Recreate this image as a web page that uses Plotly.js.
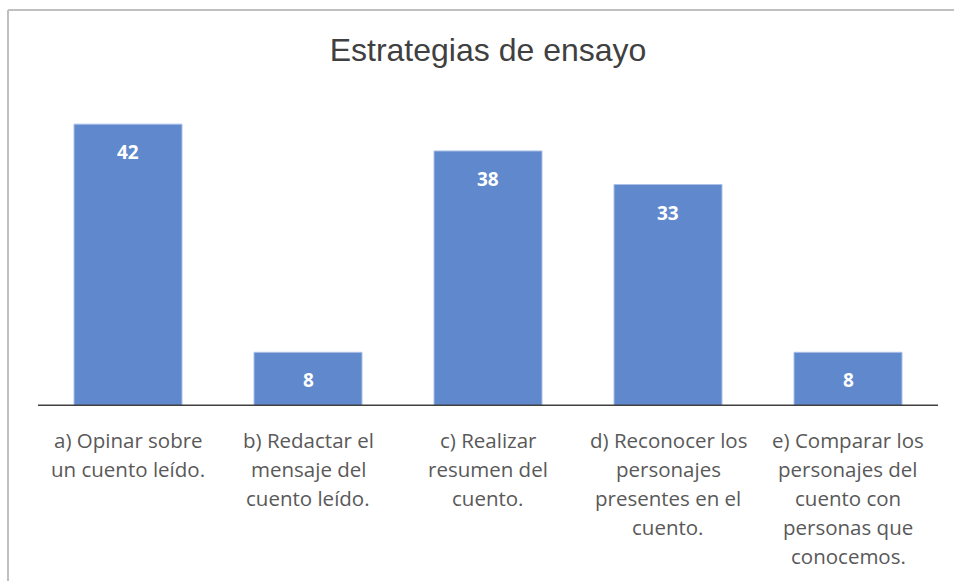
<!DOCTYPE html>
<html>
<head>
<meta charset="utf-8">
<script src="https://cdn.plot.ly/plotly-3.0.1.min.js"></script>
<style>html,body{margin:0;padding:0;background:#fff;}#chart{width:954px;height:581px;}</style>
</head>
<body>
<div id="chart"></div>
<script>
const categories = ["a", "b", "c", "d", "e"];
const values = [42, 8, 38, 33, 8];
const tickLines = [
  ["a) Opinar sobre", "un cuento leído."],
  ["b) Redactar el", "mensaje del", "cuento leído."],
  ["c) Realizar", "resumen del", "cuento."],
  ["d) Reconocer los", "personajes", "presentes en el", "cuento."],
  ["e) Comparar los", "personajes del", "cuento con", "personas que", "conocemos."]
];
const chartTitle = "Estrategias de ensayo";

const annotations = [];
categories.forEach((c, i) => {
  annotations.push({
    x: c, y: values[i], xref: 'x', yref: 'y',
    text: '<b>' + values[i] + '</b>', showarrow: false,
    yanchor: 'middle', yshift: -28,
    font: {family: '"Open Sans", sans-serif', size: 19, color: '#ffffff'}
  });
  tickLines[i].forEach((line, j) => {
    annotations.push({
      x: c, y: 0, xref: 'x', yref: 'y',
      text: line, showarrow: false,
      yanchor: 'middle', yshift: -34 - 29 * j,
      font: {family: '"Open Sans", sans-serif', size: 20.5, color: '#595959'}
    });
  });
});

const data = [{
  type: 'bar', x: categories, y: values,
  marker: {color: '#6088cd', line: {color: '#a9c0e6', width: 1}},
  width: 0.6, hoverinfo: 'none'
}];

const layout = {
  width: 954, height: 581,
  margin: {l: 38, r: 16, t: 104, b: 175},
  paper_bgcolor: '#ffffff', plot_bgcolor: '#ffffff',
  showlegend: false,
  title: {text: chartTitle, x: 0.5, xref: 'paper', y: 1 - 50/581, yanchor: 'middle',
          font: {family: '"Liberation Sans", Arial, sans-serif', size: 32, color: '#404040'}},
  xaxis: {type: 'category', showticklabels: false, showgrid: false, zeroline: false,
          showline: false, ticks: '', range: [-0.5, 4.5], fixedrange: true},
  yaxis: {range: [0, 45], showgrid: false, zeroline: false, showticklabels: false,
          showline: false, ticks: '', fixedrange: true},
  shapes: [
    {type: 'line', xref: 'paper', yref: 'y', x0: 0, x1: 1, y0: 0, y1: 0,
     line: {color: '#404040', width: 3}},
    {type: 'line', xref: 'paper', yref: 'paper', x0: -30/900, x1: 1.03, y0: 1 + 94/302, y1: 1 + 94/302,
     line: {color: '#c0c0c0', width: 2}},
    {type: 'line', xref: 'paper', yref: 'paper', x0: -30/900, x1: -30/900, y0: 1 + 94/302, y1: -0.6,
     line: {color: '#c0c0c0', width: 2}}
  ],
  annotations: annotations
};

Plotly.newPlot('chart', data, layout, {displayModeBar: false, staticPlot: true});
</script>
</body>
</html>
